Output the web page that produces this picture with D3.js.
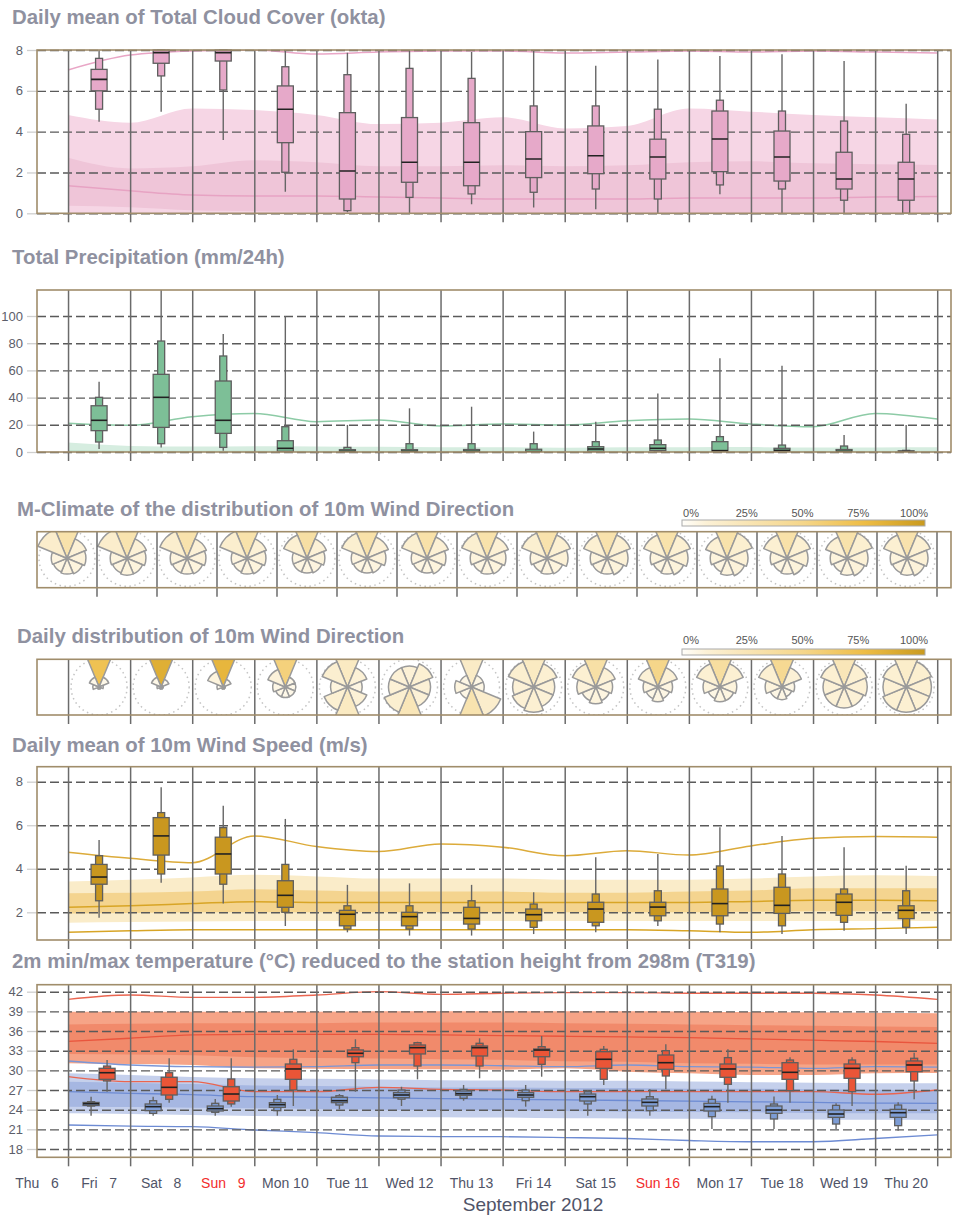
<!DOCTYPE html>
<html>
<head>
<meta charset="utf-8">
<script src="https://cdnjs.cloudflare.com/ajax/libs/d3/7.8.5/d3.min.js"></script>
<style>
body { margin: 0; background: #fff; }
svg { font-family: "Liberation Sans", Arial, sans-serif; }
.title { font-size: 20.4px; font-weight: bold; fill: #8f91a0; }
.yax text { font-size: 13px; fill: #5c5e6a; }
.leg text { font-size: 11px; fill: #555; }
</style>
</head>
<body>
<script>
var width = 955,
    height = 1218;

// ---- data ----
var dayLabels = ["Thu \u20076", "Fri \u20077", "Sat \u20078", "Sun \u20079", "Mon 10", "Tue 11", "Wed 12",
                 "Thu 13", "Fri 14", "Sat 15", "Sun 16", "Mon 17", "Tue 18", "Wed 19", "Thu 20"];
var sundays = ["Sun \u20079", "Sun 16"];

// box rows: [min, p10, p25, median, p75, p90, max], Fri 7 .. Thu 20
var cloudBoxes = [
  [4.49, 5.1, 6.0, 6.56, 7.05, 7.59, 8], [4.98, 6.73, 7.35, 7.87, 8, 8, 8],
  [3.59, 6.04, 7.46, 7.87, 8, 8, 8], [1.06, 2.01, 3.46, 5.1, 6.24, 7.18, 7.95],
  [0.05, 0.13, 0.7, 2.07, 4.93, 6.79, 7.87], [0, 0.78, 1.52, 2.5, 4.69, 7.1, 7.95],
  [0.44, 0.95, 1.35, 2.5, 4.44, 6.61, 7.9], [0.28, 1.03, 1.75, 2.66, 4.0, 5.26, 8],
  [0.2, 1.19, 1.94, 2.82, 4.28, 5.26, 7.23], [0, 0.7, 1.68, 2.76, 3.63, 5.1, 7.54],
  [0.93, 1.39, 2.04, 3.64, 5.01, 5.54, 7.71], [0, 1.19, 1.58, 2.76, 4.03, 5.01, 7.79],
  [0, 0.64, 1.19, 1.68, 2.99, 4.52, 7.46], [0, 0, 0.64, 1.68, 2.5, 3.87, 5.37]
];
var cloudClimHi  = [7.02, 7.75, 7.95, 8.0, 7.8, 7.9, 7.95, 7.95, 7.85, 7.9, 7.95, 7.9, 7.95, 7.9, 7.85];
var cloudClimP90 = [4.82, 4.44, 5.14, 5.06, 4.82, 4.37, 4.44, 4.7, 4.16, 4.28, 5.14, 4.98, 4.82, 4.7, 4.6];
var cloudClimP75 = [2.72, 2.2, 2.3, 2.6, 2.5, 2.3, 2.3, 2.35, 2.3, 2.35, 2.5, 2.55, 2.45, 2.4, 2.37];
var cloudClimMed = [1.35, 1.1, 0.9, 0.85, 0.85, 0.8, 0.75, 0.7, 0.7, 0.7, 0.75, 0.75, 0.75, 0.8, 0.82];
var cloudClimP25 = [0.37, 0.3, 0.15, 0.1, 0.05, 0, 0, 0, 0, 0, 0, 0, 0, 0, 0];
var cloudClimP10 = [0, 0, 0, 0, 0, 0, 0, 0, 0, 0, 0, 0, 0, 0, 0];

var precipBoxes = [
  [2.2, 7.35, 15.7, 23.3, 34, 40.2, 51.7], [3.4, 6.1, 18.1, 40.2, 57.1, 81.6, 125],
  [1.0, 3.4, 13.7, 23.3, 52.2, 70.6, 86.8], [0, 0, 0.5, 2.7, 8.3, 18.6, 100],
  [0, 0, 0, 0.5, 1.7, 3.4, 19.9], [0, 0, 0, 0.5, 1.7, 6.1, 32.1],
  [0, 0, 0, 0.5, 1.8, 6.1, 33.3], [0, 0, 0, 0.3, 2.0, 6.1, 15],
  [0, 0, 0.5, 2.2, 3.9, 7.6, 22.3], [0, 0, 1.0, 2.7, 5.4, 8.8, 43.1],
  [0, 0, 0, 1.0, 7.6, 11.3, 68.9], [0, 0, 0, 1.2, 2.7, 5.1, 63.5],
  [0, 0, 0, 0.5, 1.8, 4.4, 12.5], [0, 0, 0, 0.3, 0.8, 1.2, 19.9]
];
var precipClimHi  = [21.1, 19.6, 26, 28.4, 22.3, 23.5, 19.1, 20.6, 19.9, 23, 24.3, 20.6, 18.6, 28.4, 24.3];
var precipClimP90 = [6.9, 4.5, 4.0, 4.2, 4.0, 3.8, 3.5, 3.5, 3.2, 3.5, 3.5, 3.6, 3.3, 3.4, 3.5];
var precipClimP75 = [1.5, 1.0, 1.0, 1.1, 1.0, 1.0, 0.9, 0.9, 0.9, 1.0, 1.0, 1.0, 0.9, 0.9, 1.0];

var windBoxes = [
  [1.75, 2.53, 3.29, 3.62, 4.2, 4.6, 5.32], [3.36, 3.76, 4.63, 5.51, 6.35, 6.58, 7.75],
  [2.41, 3.29, 3.76, 4.68, 5.45, 5.89, 6.9], [1.37, 2.0, 2.23, 2.78, 3.45, 4.2, 6.29],
  [1.08, 1.23, 1.38, 1.91, 2.09, 2.3, 3.26], [0.93, 1.23, 1.38, 1.8, 2.0, 2.3, 3.33],
  [0.93, 1.23, 1.46, 1.72, 2.23, 2.53, 3.26], [1.0, 1.31, 1.61, 1.89, 2.15, 2.38, 2.92],
  [1.08, 1.38, 1.54, 2.15, 2.46, 2.84, 4.53], [1.37, 1.61, 1.84, 2.24, 2.46, 2.99, 4.68],
  [1.08, 1.46, 1.84, 2.4, 3.07, 4.13, 5.91], [1.0, 1.38, 1.95, 2.32, 3.15, 3.76, 5.51],
  [1.15, 1.54, 1.86, 2.46, 2.84, 3.07, 4.99], [1.0, 1.31, 1.71, 2.09, 2.3, 2.99, 4.14]
];
var windClimHi  = [4.76, 4.48, 4.28, 5.51, 5.02, 4.79, 5.14, 4.99, 4.6, 4.83, 4.63, 5.05, 5.4, 5.48, 5.45];
var windClimP90 = [3.41, 3.5, 3.6, 3.72, 3.65, 3.55, 3.55, 3.55, 3.5, 3.5, 3.5, 3.55, 3.65, 3.7, 3.67];
var windClimP75 = [2.87, 2.9, 2.95, 3.06, 3.0, 2.95, 2.95, 2.95, 2.9, 2.9, 2.95, 3.0, 3.1, 3.1, 3.1];
var windClimMed = [2.23, 2.3, 2.4, 2.49, 2.45, 2.45, 2.45, 2.45, 2.45, 2.45, 2.45, 2.5, 2.55, 2.55, 2.53];
var windClimP25 = [1.95, 1.97, 2.0, 2.0, 2.0, 2.0, 2.0, 2.0, 2.0, 2.0, 2.0, 2.02, 2.05, 2.05, 2.05];
var windClimP10 = [1.52, 1.55, 1.58, 1.6, 1.6, 1.6, 1.6, 1.6, 1.6, 1.6, 1.6, 1.6, 1.6, 1.6, 1.6];
var windClimLo  = [1.08, 1.15, 1.2, 1.2, 1.2, 1.2, 1.2, 1.2, 1.2, 1.2, 1.15, 1.08, 1.2, 1.25, 1.31];

var tminBoxes = [
  [23.08, 24.55, 24.65, 24.91, 25.1, 25.22, 25.98], [23.08, 23.44, 23.85, 24.46, 24.87, 25.37, 25.98],
  [23.08, 23.6, 23.8, 24.15, 24.56, 24.97, 25.63], [23.08, 23.85, 24.36, 24.76, 25.07, 25.58, 26.24],
  [24.05, 24.71, 25.07, 25.37, 25.89, 26.13, 26.39], [24.56, 25.6, 25.83, 26.24, 26.6, 27.0, 27.5],
  [25.37, 25.73, 26.19, 26.44, 26.85, 27.1, 27.77], [24.46, 25.37, 25.89, 26.24, 26.6, 27.0, 27.77],
  [23.08, 24.87, 25.32, 25.98, 26.39, 26.74, 27.0], [23.08, 23.85, 24.56, 25.12, 25.63, 25.98, 27.1],
  [21.05, 22.93, 23.8, 24.46, 24.97, 25.58, 26.13], [21.05, 22.58, 23.44, 23.95, 24.56, 24.87, 26.0],
  [21.05, 21.81, 22.83, 23.34, 23.95, 24.66, 24.97], [20.8, 21.56, 22.83, 23.54, 24.05, 24.71, 25.12]
];
var tmaxBoxes = [
  [26.74, 28.38, 28.63, 29.64, 30.31, 30.66, 31.58], [25.07, 25.58, 26.24, 27.41, 28.94, 29.64, 31.84],
  [24.46, 24.87, 25.32, 26.39, 27.5, 28.68, 31.84], [24.56, 27.0, 28.63, 30.21, 30.97, 31.69, 33.21],
  [26.74, 31.17, 32.08, 32.6, 33.11, 33.46, 34.74], [28.63, 30.66, 32.5, 33.46, 33.87, 34.22, 34.37],
  [28.79, 30.66, 32.19, 33.46, 33.72, 34.13, 34.89], [29.03, 30.92, 32.08, 33.1, 33.26, 33.61, 35.24],
  [27.77, 28.63, 30.31, 31.69, 32.85, 33.21, 33.72], [27.1, 29.14, 30.16, 31.17, 32.34, 33.0, 33.97],
  [25.07, 27.87, 28.94, 30.21, 30.97, 31.94, 33.21], [25.07, 26.9, 28.63, 29.7, 31.17, 31.58, 32.0],
  [24.56, 26.74, 28.79, 30.31, 30.97, 31.58, 32.0], [25.58, 28.38, 29.8, 30.82, 31.43, 31.84, 32.69]
];
var tmaxClimHi  = [40.84, 41.5, 41.14, 41.14, 41.5, 42.0, 41.6, 41.76, 41.86, 41.86, 41.76, 41.76, 41.76, 41.5, 40.84];
var tmaxClimP90 = [38.95, 38.95, 38.95, 38.95, 38.95, 39.0, 39.0, 39.0, 39.0, 39.0, 38.95, 38.9, 38.85, 38.8, 38.7];
var tmaxClimP75 = [37.0, 37.1, 37.2, 37.2, 37.2, 37.3, 37.3, 37.3, 37.2, 37.1, 37.0, 36.9, 36.8, 36.7, 36.6];
var tmaxClimMed = [34.42, 34.9, 35.4, 35.5, 35.5, 35.5, 35.4, 35.3, 35.2, 35.1, 35.0, 34.8, 34.6, 34.4, 34.13];
var tmaxClimP25 = [32.5, 32.4, 32.3, 32.0, 31.9, 31.8, 31.7, 31.6, 31.4, 31.3, 31.1, 31.0, 30.9, 30.9, 30.9];
var tmaxClimP10 = [31.07, 30.95, 30.8, 30.31, 30.25, 30.2, 30.15, 30.1, 30.31, 29.8, 29.55, 29.3, 29.3, 29.55, 29.6];
var tmaxClimLo  = [29.03, 28.27, 28.27, 26.74, 26.74, 27.41, 27.1, 27.0, 26.74, 26.74, 26.74, 26.74, 26.74, 26.35, 27.0];
var tminClimHi  = [31.43, 30.82, 30.56, 30.5, 30.56, 30.82, 30.82, 30.7, 30.56, 30.82, 30.56, 30.5, 30.3, 30.56, 30.5];
var tminClimP90 = [29.55, 29.3, 29.0, 28.79, 28.7, 28.6, 28.5, 28.45, 28.42, 28.4, 28.3, 28.2, 28.1, 28.05, 28.03];
var tminClimP75 = [28.27, 28.1, 27.9, 27.7, 27.6, 27.5, 27.4, 27.4, 27.3, 27.3, 27.2, 27.2, 27.1, 27.05, 27.0];
var tminClimMed = [26.74, 26.5, 26.3, 25.98, 25.9, 25.8, 25.7, 25.6, 25.5, 25.4, 25.3, 25.2, 25.1, 25.0, 24.97];
var tminClimP25 = [24.46, 24.4, 24.3, 24.2, 24.1, 24.0, 23.95, 23.9, 23.8, 23.7, 23.65, 23.6, 23.5, 23.45, 23.44];
var tminClimP10 = [23.44, 23.35, 23.2, 23.03, 22.95, 22.9, 22.85, 22.8, 22.68, 22.65, 22.6, 22.55, 22.5, 22.45, 22.42];
var tminClimLo  = [21.66, 21.5, 21.4, 20.9, 20.5, 19.98, 19.9, 19.88, 19.75, 19.6, 19.3, 19.11, 19.11, 19.6, 20.14];

// wind roses: probability per sector N, NE, E, SE, S, SW, W, NW
var mclimRoses = [
  [0.32, 0.1, 0.09, 0.08, 0.075, 0.07, 0.075, 0.15], [0.3, 0.1, 0.09, 0.08, 0.08, 0.075, 0.08, 0.15],
  [0.31, 0.1, 0.09, 0.08, 0.075, 0.075, 0.08, 0.14], [0.32, 0.1, 0.09, 0.08, 0.075, 0.07, 0.075, 0.14],
  [0.36, 0.1, 0.085, 0.075, 0.07, 0.07, 0.07, 0.12], [0.33, 0.11, 0.09, 0.075, 0.07, 0.07, 0.075, 0.13],
  [0.33, 0.11, 0.09, 0.08, 0.07, 0.07, 0.075, 0.13], [0.32, 0.11, 0.09, 0.08, 0.075, 0.07, 0.08, 0.13],
  [0.31, 0.12, 0.1, 0.08, 0.075, 0.07, 0.08, 0.13], [0.31, 0.12, 0.1, 0.085, 0.075, 0.075, 0.08, 0.12],
  [0.32, 0.12, 0.1, 0.085, 0.075, 0.07, 0.08, 0.12], [0.32, 0.13, 0.1, 0.09, 0.08, 0.07, 0.08, 0.11],
  [0.33, 0.12, 0.1, 0.085, 0.075, 0.07, 0.08, 0.12], [0.32, 0.13, 0.1, 0.09, 0.08, 0.07, 0.08, 0.11],
  [0.31, 0.12, 0.1, 0.09, 0.08, 0.075, 0.08, 0.12]
];
var dailyRoses = [
  [0.7, 0.05, 0.02, 0.01, 0.01, 0.01, 0.03, 0.05], [0.85, 0.04, 0.01, 0.01, 0.01, 0.01, 0.02, 0.05],
  [0.8, 0.04, 0.01, 0.01, 0.01, 0.01, 0.03, 0.08], [0.55, 0.05, 0.05, 0.05, 0.05, 0.05, 0.06, 0.09],
  [0.2, 0.1, 0.07, 0.1, 0.2, 0.12, 0.08, 0.13], [0.1, 0.12, 0.1, 0.1, 0.25, 0.13, 0.1, 0.1],
  [0.18, 0.06, 0.06, 0.15, 0.3, 0.06, 0.08, 0.06], [0.2, 0.12, 0.1, 0.1, 0.12, 0.11, 0.1, 0.13],
  [0.35, 0.1, 0.08, 0.07, 0.08, 0.07, 0.09, 0.12], [0.5, 0.1, 0.07, 0.06, 0.07, 0.06, 0.07, 0.1],
  [0.38, 0.12, 0.08, 0.07, 0.07, 0.06, 0.08, 0.12], [0.45, 0.1, 0.06, 0.05, 0.06, 0.06, 0.08, 0.12],
  [0.25, 0.12, 0.11, 0.1, 0.1, 0.1, 0.1, 0.12], [0.16, 0.13, 0.12, 0.12, 0.12, 0.12, 0.11, 0.12]
];
var legendTicks = ["0%", "25%", "50%", "75%", "100%"];

// ---- scaffolding ----
var svg = d3.select("body").append("svg")
    .attr("width", width)
    .attr("height", height);

var x0 = 37, x1 = 951;
var x = d3.scaleUtc()
    .domain([new Date(Date.UTC(2012, 8, 6, 12)), new Date(Date.UTC(2012, 8, 21, 5, 20))])
    .range([x0, x1]);

var boxDays = d3.utcDays(Date.UTC(2012, 8, 7), Date.UTC(2012, 8, 21)).map(function(d) { return d3.utcHour.offset(d, 12); });
var climDays = d3.utcDays(Date.UTC(2012, 8, 7), Date.UTC(2012, 8, 22));
var labelDays = d3.utcDays(Date.UTC(2012, 8, 6), Date.UTC(2012, 8, 21)).map(function(d) { return d3.utcHour.offset(d, 12); });

var roseColor = d3.scaleLinear()
    .domain([0, 0.1, 0.25, 0.5, 0.75, 1])
    .range(["#fffefa", "#fcf1d6", "#f9e6b8", "#f5d68a", "#eebd45", "#c99a1e"]);
var roseRadius = d3.scaleLinear().domain([0, 1]).range([0, 210]);

function title(txt, tx, ty) {
  svg.append("text").attr("class", "title").attr("x", tx).attr("y", ty).text(txt);
}

function clip(top, bottom) {
  var id = "clip" + Math.round(top);
  svg.append("clipPath").attr("id", id)
    .append("rect").attr("x", x0).attr("y", top).attr("width", x1 - x0).attr("height", bottom - top);
  return "url(#" + id + ")";
}

function frame(top, bottom) {
  svg.append("rect")
    .attr("x", x0).attr("y", top).attr("width", x1 - x0).attr("height", bottom - top)
    .attr("fill", "none").attr("stroke", "#a08d6b").attr("stroke-width", 1.6);
}

function yAxes(y, ticks) {
  svg.append("g").attr("class", "yax").attr("transform", "translate(" + x0 + ",0)")
    .call(d3.axisLeft(y).tickValues(ticks).tickSize(10).tickPadding(4).tickFormat(d3.format("d")))
    .call(function(a) { a.select(".domain").remove(); })
    .call(function(a) { a.selectAll("line").attr("stroke", "#cfcfcf").attr("stroke-width", 1.3); });
  svg.append("g").attr("transform", "translate(" + x0 + ",0)")
    .call(d3.axisLeft(y).tickValues(ticks).tickSize(-(x1 - x0)).tickFormat(""))
    .call(function(a) { a.select(".domain").remove(); })
    .selectAll("line")
      .attr("stroke", "#5a5a5a").attr("stroke-width", 1.4).attr("stroke-dasharray", "9,4");
}

function dayLines(top, bottom) {
  svg.append("g").attr("transform", "translate(0," + (bottom + 9) + ")")
    .call(d3.axisBottom(x).ticks(d3.utcDay.every(1)).tickSize(-(bottom - top + 9)).tickFormat(""))
    .call(function(a) { a.select(".domain").remove(); })
    .selectAll("line").attr("stroke", "#6b6b6b").attr("stroke-width", 1.5);
}

function band(g, y, lo, hi, fill) {
  var area = d3.area()
      .curve(d3.curveMonotoneX)
      .x(function(d, i) { return x(climDays[i]); })
      .y0(function(d, i) { return y(lo[i]); })
      .y1(function(d, i) { return y(hi[i]); });
  g.append("path").attr("d", area(climDays)).attr("fill", fill);
}

function curve(g, y, vals, stroke, w) {
  var line = d3.line()
      .curve(d3.curveMonotoneX)
      .x(function(d, i) { return x(climDays[i]); })
      .y(function(d) { return y(d); });
  g.append("path").attr("d", line(vals)).attr("fill", "none")
    .attr("stroke", stroke).attr("stroke-width", w || 1.5);
}

function boxes(g, y, data, dx, fill) {
  var b = g.selectAll(null).data(data).enter().append("g")
      .attr("transform", function(d, i) { return "translate(" + (x(boxDays[i]) + dx) + ",0)"; });
  b.append("line")
    .attr("y1", function(d) { return y(d[0]); }).attr("y2", function(d) { return y(d[6]); })
    .attr("stroke", "#666").attr("stroke-width", 1.4);
  b.append("rect")
    .attr("x", -3.5).attr("width", 7)
    .attr("y", function(d) { return y(d[5]); })
    .attr("height", function(d) { return y(d[1]) - y(d[5]); })
    .attr("fill", fill).attr("stroke", "#5e5e5e").attr("stroke-width", 1.3);
  b.append("rect")
    .attr("x", -8).attr("width", 16)
    .attr("y", function(d) { return y(d[4]); })
    .attr("height", function(d) { return y(d[2]) - y(d[4]); })
    .attr("fill", fill).attr("stroke", "#5e5e5e").attr("stroke-width", 1.3);
  b.append("line")
    .attr("x1", -8).attr("x2", 8)
    .attr("y1", function(d) { return y(d[3]); }).attr("y2", function(d) { return y(d[3]); })
    .attr("stroke", "#222").attr("stroke-width", 1.6);
}

// ---- panel 1: cloud cover ----
(function() {
  var top = 50, bottom = 213.3;
  var y = d3.scaleLinear().domain([0, 8]).range([bottom, top]);
  title("Daily mean of Total Cloud Cover (okta)", 12, 24);
  var g = svg.append("g").attr("clip-path", clip(top, bottom));
  band(g, y, cloudClimP10, cloudClimP90, "#f6d6e5");
  band(g, y, cloudClimP25, cloudClimP75, "#efc5d8");
  curve(g, y, cloudClimMed, "#e7a3c3");
  curve(g, y, cloudClimHi, "#e9a6c6");
  yAxes(y, [0, 2, 4, 6, 8]);
  dayLines(top, bottom);
  boxes(svg.append("g").attr("clip-path", clip(top - 1, bottom + 1)), y, cloudBoxes, 0, "#e6a9c9");
  frame(top, bottom);
})();

// ---- panel 2: precipitation ----
(function() {
  var top = 290, bottom = 452;
  var y = d3.scaleLinear().domain([0, 100]).range([bottom, 316]);
  title("Total Precipitation (mm/24h)", 12, 264);
  var g = svg.append("g").attr("clip-path", clip(top, bottom));
  band(g, y, precipClimP75.map(function() { return 0; }), precipClimP90, "#d6ede0");
  band(g, y, precipClimP75.map(function() { return 0; }), precipClimP75, "#c3e4d0");
  curve(g, y, precipClimHi, "#8dcba6");
  yAxes(y, [0, 20, 40, 60, 80, 100]);
  dayLines(top, bottom);
  boxes(svg.append("g").attr("clip-path", clip(top, bottom + 1)), y, precipBoxes, 0, "#7dbf97");
  frame(top, bottom);
})();

// ---- wind roses ----
function legend(barTop, labelY) {
  var lg = svg.append("g").attr("class", "leg");
  var gid = "grad" + barTop;
  var grad = svg.append("defs").append("linearGradient").attr("id", gid);
  grad.selectAll("stop").data(roseColor.domain()).enter().append("stop")
    .attr("offset", function(d) { return d * 100 + "%"; })
    .attr("stop-color", function(d) { return roseColor(d); });
  lg.append("rect").attr("x", 682).attr("y", barTop).attr("width", 243).attr("height", 6)
    .attr("fill", "url(#" + gid + ")").attr("stroke", "#aaa").attr("stroke-width", 1);
  var lx = d3.scalePoint().domain(legendTicks).range([691, 914]);
  lg.selectAll("text").data(legendTicks).enter().append("text")
    .attr("x", function(d) { return lx(d); }).attr("y", labelY)
    .attr("text-anchor", "middle").text(function(d) { return d; });
}

var arc = d3.arc().innerRadius(0);
function rose(g, cx, cy, probs) {
  var rg = g.append("g").attr("transform", "translate(" + cx + "," + cy + ")");
  rg.append("circle").attr("r", 28).attr("fill", "none")
    .attr("stroke", "#c4c4c4").attr("stroke-width", 1.5).attr("stroke-dasharray", "1.5,3.5");
  var step = 2 * Math.PI / probs.length;
  rg.selectAll("path").data(probs).enter().append("path")
    .attr("d", function(p, i) {
      return arc({ outerRadius: roseRadius(p), startAngle: i * step - step / 2, endAngle: i * step + step / 2 });
    })
    .attr("fill", function(p) { return roseColor(p); })
    .attr("stroke", "#9a9a9a").attr("stroke-width", 1.5).attr("stroke-linejoin", "round");
}

(function() {
  var top = 531.7, bottom = 587.7;
  title("M-Climate of the distribution of 10m Wind Direction", 17, 516);
  legend(520, 516.5);
  var cells = d3.scaleBand().domain(d3.range(mclimRoses.length)).range([x0, 937]);
  var g = svg.append("g").attr("clip-path", clip(top, bottom));
  mclimRoses.forEach(function(p, i) { rose(g, cells(i) + cells.bandwidth() / 2, 558.3, p); });
  svg.append("g").selectAll("line").data(d3.range(mclimRoses.length)).enter().append("line")
    .attr("x1", function(i) { return cells(i) + cells.bandwidth(); })
    .attr("x2", function(i) { return cells(i) + cells.bandwidth(); })
    .attr("y1", top).attr("y2", bottom + 9)
    .attr("stroke", "#555").attr("stroke-width", 1.3);
  frame(top, bottom);
})();

(function() {
  var top = 659.3, bottom = 715;
  title("Daily distribution of 10m Wind Direction", 17, 643);
  legend(649, 643.5);
  var g = svg.append("g").attr("clip-path", clip(top, bottom));
  dailyRoses.forEach(function(p, i) { rose(g, x(boxDays[i]), 687, p); });
  dayLines(top, bottom);
  frame(top, bottom);
})();

// ---- panel 5: wind speed ----
(function() {
  var top = 766.7, bottom = 940;
  var y = d3.scaleLinear().domain([2, 8]).range([912.3, 781.7]);
  title("Daily mean of 10m Wind Speed (m/s)", 12, 752);
  var g = svg.append("g").attr("clip-path", clip(top, bottom));
  band(g, y, windClimP10, windClimP90, "#faecc9");
  band(g, y, windClimP25, windClimP75, "#f4d48f");
  curve(g, y, windClimMed, "#d8a526");
  curve(g, y, windClimHi, "#dcab3a");
  curve(g, y, windClimLo, "#d8a526");
  yAxes(y, [2, 4, 6, 8]);
  dayLines(top, bottom);
  boxes(svg.append("g"), y, windBoxes, 0, "#c9971f");
  frame(top, bottom);
})();

// ---- panel 6: temperature ----
(function() {
  var top = 984.7, bottom = 1157.3;
  var y = d3.scaleLinear().domain([18, 42]).range([1149, 991.7]);
  title("2m min/max temperature (\u00b0C) reduced to the station height from 298m (T319)", 12, 968);
  var g = svg.append("g").attr("clip-path", clip(top, bottom));
  band(g, y, tmaxClimP10, tmaxClimP90, "#f6a487");
  band(g, y, tmaxClimP25, tmaxClimP75, "#f18a6b");
  band(g, y, tminClimP10, tminClimP90, "#c5d0ec");
  band(g, y, tminClimP25, tminClimP75, "#a6b7e2");
  curve(g, y, tmaxClimMed, "#e9553d", 1.3);
  curve(g, y, tmaxClimHi, "#ea6550", 1.3);
  curve(g, y, tmaxClimLo, "#ea6550", 1.3);
  curve(g, y, tminClimMed, "#6d8bd3", 1.3);
  curve(g, y, tminClimHi, "#7b96d6", 1.3);
  curve(g, y, tminClimLo, "#6d8bd3", 1.3);
  yAxes(y, d3.range(18, 43, 3));
  dayLines(top, bottom);
  boxes(svg.append("g"), y, tminBoxes, -8, "#7d9cd4");
  boxes(svg.append("g"), y, tmaxBoxes, 8, "#ea5537");
  frame(top, bottom);

  svg.append("g").selectAll("text").data(dayLabels).enter().append("text")
    .attr("x", function(d, i) { return x(labelDays[i]); })
    .attr("y", 1188)
    .attr("text-anchor", "middle")
    .attr("font-size", 14)
    .attr("fill", function(d) { return sundays.indexOf(d) >= 0 ? "#f22c2c" : "#505468"; })
    .text(function(d) { return d; });
  svg.append("text").attr("x", 533).attr("y", 1211).attr("text-anchor", "middle")
    .attr("font-size", 19).attr("fill", "#505468").text("September 2012");
})();
</script>
</body>
</html>
